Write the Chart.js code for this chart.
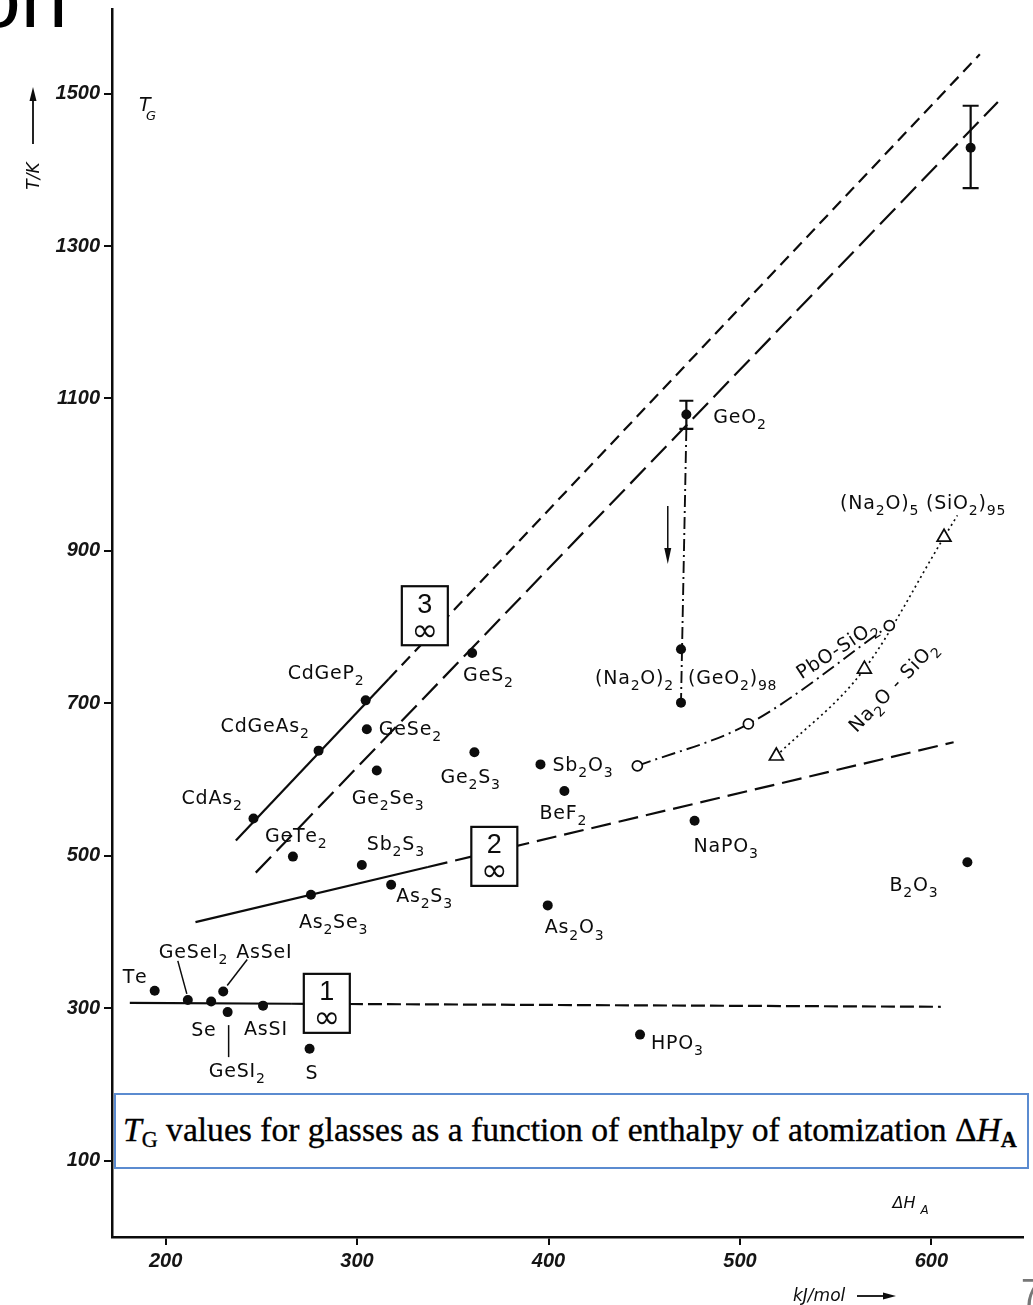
<!DOCTYPE html>
<html>
<head>
<meta charset="utf-8">
<title>T_G of glasses vs. enthalpy of atomization</title>
<script src="https://cdn.jsdelivr.net/npm/chart.js@4.4.1/dist/chart.umd.min.js"></script>
<style>
  html, body { margin: 0; padding: 0; background: #fff; overflow: hidden; width: 1033px; height: 1305px; }
  #wrap { position: relative; width: 1033px; height: 1305px; overflow: hidden; }
  #heading { position: absolute; left: -26px; top: -44px; font: 84px/84px "Liberation Sans", sans-serif; color: #000; white-space: nowrap; }
  canvas { position: absolute; left: 0; top: 0; }
  #caption { position: absolute; left: 114px; top: 1093px; width: 911px; height: 72px; border: 2px solid #5b8bd0; background: #fff; }
  #captionText { position: absolute; left: 7px; top: 50%; transform: translateY(-52%); white-space: nowrap; font-family: "Liberation Serif", "DejaVu Serif", serif; color: #000; font-size: 26px; -webkit-text-stroke: 0.35px #000; }
  #captionText sub { font-size: 0.66em; vertical-align: -0.25em; line-height: 0; }
  #pageNo { position: absolute; left: 1021px; top: 1275px; font: 36px/36px "Liberation Sans", sans-serif; color: #777; }
</style>
</head>
<body>
<div id="wrap">
  <div id="heading">on</div>
  <canvas id="chart" width="1033" height="1305"></canvas>
  <div id="caption"><span id="captionText"><i>T</i><sub>G</sub> values for glasses as a function of enthalpy of atomization Δ<i>H</i><sub><b>A</b></sub></span></div>
  <div id="pageNo">7</div>
</div>
<script>
// ---- axis ticks -------------------------------------------------------
const xTickValues = [200, 300, 400, 500, 600];                    // ΔH_A, kJ/mol
const yTickValues = [100, 300, 500, 700, 900, 1100, 1300, 1500];  // T, K

// ---- glasses: enthalpy of atomization (kJ/mol) and T_G (K) -----------
const glassNames = ['Te', 'GeSeI2', 'Se', 'AsSeI', 'GeSI2', 'AsSI', 'S',
  'As2Se3', 'As2S3', 'Sb2S3', 'GeTe2', 'CdAs2', 'CdGeAs2', 'CdGeP2', 'GeSe2',
  'Ge2Se3', 'GeS2', 'Ge2S3', 'Sb2O3', 'BeF2', 'As2O3', 'NaPO3', 'HPO3', 'B2O3'];
const glassDH = [194.3, 211.6, 223.8, 230.1, 232.4, 250.9, 275.2,
  275.9, 317.8, 302.5, 266.5, 245.9, 279.9, 304.5, 305.1,
  310.3, 360.1, 361.3, 395.8, 408.3, 399.6, 476.3, 447.8, 618.8];
const glassTG = [323, 311, 309, 322, 295, 303.5, 247,
  449, 462, 488, 499, 549, 638, 704, 666,
  612, 766, 636, 620, 585, 435, 546, 265.5, 491.5];

// ---- oxides with uncertainty bars ------------------------------------
const barNames = ['GeO2', 'SiO2'];
const barDH = [472, 620.5];
const barTG = [1079, 1429];
const barLow = [1060, 1376];
const barHigh = [1097, 1484];

// ---- (Na2O)2(GeO2)98 ---------------------------------------------------
const naGeDH = [469.2, 469.2];
const naGeTG = [771, 701];

// ---- PbO–SiO2 series (open circles) -----------------------------------
const pbDH = [446.4, 504.4, 578];
const pbTG = [618, 673, 802];

// ---- Na2O–SiO2 series (triangles) and its dotted trend ----------------
const naSiDH = [519, 565, 606.6];
const naSiTG = [631, 745, 918];
const naSiTrendDH = [519, 565, 606.6, 613.6];
const naSiTrendTG = [631, 745, 918, 946.6];

// ---- correlation lines: first segment solid, the rest dashed ----------
const line1DH = [181.3, 266, 604.9];
const line1TG = [307, 306, 302];
const line2DH = [215.6, 337, 611.6];
const line2TG = [413, 485.4, 649];
const line3aDH = [236.7, 316.5, 625.3];
const line3aTG = [520, 732, 1551.5];
const line3bDH = [247.1, 634.7];
const line3bTG = [478, 1489];

// ---- line tags ("n" over ∞) -------------------------------------------
const tagNumbers = ['1', '2', '3'];
const tagDH = [284.2, 371.7, 335.4];
const tagTG = [306.5, 499.3, 815];

// ---- cooling arrow beside the GeO2 → (Na2O)2(GeO2)98 drop ------------
const arrowDH = 462.3;
const arrowTG = [959, 883];

// ======================================================================
const INK = '#0c0c0c';
const SANS = '"DejaVu Sans", "Liberation Sans", sans-serif';
const pts = (xs, ys) => xs.map((v, i) => ({ x: v, y: ys[i] }));
const LABEL_SIZE = 19, LABEL_TRACK = 0.8;

// label placement (pixel offsets from the marker: left edge, cap middle)
const glassLabelOffset = {
  'Te': [-32, -15], 'GeSeI2': [-29, -49], 'Se': [-20, 28], 'AsSeI': [13, -41],
  'GeSI2': [-19, 58], 'AsSI': [-19, 22], 'S': [-4, 23], 'As2Se3': [-12, 26],
  'As2S3': [5, 10], 'Sb2S3': [5, -22], 'GeTe2': [-28, -22], 'CdAs2': [-72, -22],
  'CdGeAs2': [-98, -26], 'CdGeP2': [-78, -28], 'GeSe2': [12, -1], 'Ge2Se3': [-25, 26],
  'GeS2': [-9, 21], 'Ge2S3': [-34, 24], 'Sb2O3': [12, 0], 'BeF2': [-25, 21],
  'As2O3': [-3, 21], 'NaPO3': [-1, 24], 'HPO3': [11, 7], 'B2O3': [-78, 22]
};
const leaderLines = {
  'GeSeI2': [[-10, -39], [-1, -6]],
  'AsSeI': [[24, -32], [4, -6]],
  'GeSI2': [[1, 13], [1, 45]]
};

function runs(text) { return [...text].map(ch => ({ ch, sub: /[0-9]/.test(ch) })); }
function subSize(size) { return Math.round(size * 0.74); }
function formulaWidth(ctx, text, size, track) {
  let w = 0;
  for (const r of runs(text)) {
    ctx.font = `${r.sub ? subSize(size) : size}px ${SANS}`;
    w += ctx.measureText(r.ch).width + track;
  }
  return w - track;
}
// chemical formula with every digit set as a subscript
function drawFormula(ctx, text, x, y, size = LABEL_SIZE, track = LABEL_TRACK) {
  const base = y + size * 0.37;
  let cx = x;
  for (const r of runs(text)) {
    const s = r.sub ? subSize(size) : size;
    ctx.font = `${s}px ${SANS}`;
    ctx.fillText(r.ch, cx, r.sub ? base + size * 0.32 : base);
    cx += ctx.measureText(r.ch).width + track;
  }
}
function drawFormulaRotated(ctx, text, cx, cy, angleDeg, size = LABEL_SIZE, track = LABEL_TRACK) {
  const w = formulaWidth(ctx, text, size, track);
  ctx.save();
  ctx.translate(cx, cy);
  ctx.rotate(angleDeg * Math.PI / 180);
  drawFormula(ctx, text, -w / 2, 0, size, track);
  ctx.restore();
}
function arrowHead(ctx, x, y, dx, dy, len, half) {
  const n = Math.hypot(dx, dy), ux = dx / n, uy = dy / n;
  ctx.beginPath();
  ctx.moveTo(x, y);
  ctx.lineTo(x - ux * len - uy * half, y - uy * len + ux * half);
  ctx.lineTo(x - ux * len + uy * half, y - uy * len - ux * half);
  ctx.closePath();
  ctx.fill();
}

const annotations = {
  id: 'annotations',
  afterDatasetsDraw(chart) {
    const { ctx, scales: { x, y } } = chart;
    const px = v => x.getPixelForValue(v), py = v => y.getPixelForValue(v);
    ctx.save();
    ctx.strokeStyle = INK; ctx.fillStyle = INK; ctx.lineCap = 'butt';

    // uncertainty bars
    barDH.forEach((d, i) => {
      const cx = px(d), top = py(barHigh[i]), bot = py(barLow[i]);
      const cap = i === 0 ? 7 : 8;
      ctx.lineWidth = 2.2;
      ctx.beginPath();
      ctx.moveTo(cx, top); ctx.lineTo(cx, bot);
      ctx.moveTo(cx - cap, top); ctx.lineTo(cx + cap, top);
      ctx.moveTo(cx - cap, bot); ctx.lineTo(cx + cap, bot);
      ctx.stroke();
    });

    // cooling arrow
    {
      const ax = px(arrowDH), y0 = py(arrowTG[0]), y1 = py(arrowTG[1]);
      ctx.lineWidth = 1.5;
      ctx.beginPath(); ctx.moveTo(ax, y0); ctx.lineTo(ax, y1 - 12); ctx.stroke();
      arrowHead(ctx, ax, y1, 0, 1, 16, 3.5);
    }

    // boxed tags on the correlation lines
    tagNumbers.forEach((t, i) => {
      const cx = px(tagDH[i]), cy = py(tagTG[i]);
      const w = 46, h = 59;
      ctx.fillStyle = '#fff';
      ctx.fillRect(cx - w / 2, cy - h / 2, w, h);
      ctx.lineWidth = 2.2; ctx.strokeStyle = INK;
      ctx.strokeRect(cx - w / 2, cy - h / 2, w, h);
      ctx.fillStyle = INK;
      ctx.textAlign = 'center'; ctx.textBaseline = 'alphabetic';
      ctx.font = `27px "Liberation Sans", sans-serif`;
      ctx.fillText(t, cx, cy - 3);
      ctx.font = `32px "DejaVu Sans", sans-serif`;
      ctx.fillText('\u221E', cx, cy + 25);
    });

    // formula labels
    ctx.textAlign = 'left'; ctx.textBaseline = 'alphabetic'; ctx.fillStyle = INK;
    glassNames.forEach((n, i) => {
      const mx = px(glassDH[i]), my = py(glassTG[i]);
      const [dx, dy] = glassLabelOffset[n];
      drawFormula(ctx, n, mx + dx, my + dy);
      if (leaderLines[n]) {
        const [[a1, b1], [a2, b2]] = leaderLines[n];
        ctx.lineWidth = 1.5;
        ctx.beginPath(); ctx.moveTo(mx + a1, my + b1); ctx.lineTo(mx + a2, my + b2); ctx.stroke();
      }
    });
    drawFormula(ctx, 'GeO2', px(barDH[0]) + 27, py(barTG[0]) + 1);
    drawFormula(ctx, '(Na2O)2', px(naGeDH[1]) - 86, py(naGeTG[1]) - 26);
    drawFormula(ctx, '(GeO2)98', px(naGeDH[1]) + 7, py(naGeTG[1]) - 26);
    drawFormula(ctx, '(Na2O)5 (SiO2)95', px(naSiDH[2]) - 104, py(naSiTG[2]) - 35);
    drawFormulaRotated(ctx, 'PbO-SiO2', px(pbDH[2]) - 53, py(pbTG[2]) + 23, -33);
    drawFormulaRotated(ctx, 'Na2O - SiO2', px(naSiDH[1]) + 28, py(naSiTG[1]) + 17, -46);
    ctx.restore();
  },
  afterDraw(chart) {
    const { ctx, chartArea, scales: { x, y } } = chart;
    const px = v => x.getPixelForValue(v), py = v => y.getPixelForValue(v);
    ctx.save();
    ctx.fillStyle = INK; ctx.strokeStyle = INK;
    ctx.textBaseline = 'alphabetic'; ctx.textAlign = 'left';

    // T_G symbol inside the plot corner
    const tgx = chartArea.left + 27, tgy = py(1484);
    ctx.font = `italic 19px ${SANS}`;
    ctx.fillText('T', tgx, tgy + 5);
    ctx.font = `italic 13px ${SANS}`;
    ctx.fillText('G', tgx + 7, tgy + 14);

    // vertical axis title with arrow
    ctx.save();
    ctx.translate(33, 176);
    ctx.rotate(-Math.PI / 2);
    ctx.font = `italic 17px ${SANS}`;
    ctx.textAlign = 'center';
    ctx.fillText('T/K', 0, 6);
    ctx.lineWidth = 1.8;
    ctx.beginPath(); ctx.moveTo(32, 0); ctx.lineTo(78, 0); ctx.stroke();
    arrowHead(ctx, 89, 0, 1, 0, 14, 3.5);
    ctx.restore();

    // ΔH_A symbol above the horizontal axis
    const hx = px(588), hy = py(42);
    ctx.font = `italic 16px ${SANS}`;
    ctx.fillText('\u0394H', hx - 16, hy + 3);
    ctx.font = `italic 12px ${SANS}`;
    ctx.fillText('A', hx + 12, hy + 9);

    // unit with arrow below the horizontal axis
    ctx.font = `italic 17px ${SANS}`;
    ctx.fillText('kJ/mol', 793, 1301);
    ctx.lineWidth = 1.8;
    ctx.beginPath(); ctx.moveTo(857, 1296); ctx.lineTo(884, 1296); ctx.stroke();
    arrowHead(ctx, 896, 1296, 1, 0, 13, 3.5);
    ctx.restore();
  }
};

const lineBase = { showLine: true, fill: false, pointRadius: 0, pointHoverRadius: 0,
  borderColor: INK, borderWidth: 2.2, order: 2 };
const dashAfterFirst = dash => ({ borderDash: c => (c.p0DataIndex === 0 ? [] : dash) });
const tickFont = { family: '"Liberation Sans", sans-serif', size: 20, style: 'italic', weight: 'bold' };

new Chart(document.getElementById('chart'), {
  type: 'scatter',
  data: {
    datasets: [
      { ...lineBase, data: pts(line3aDH, line3aTG), segment: dashAfterFirst([12, 7]) },
      { ...lineBase, data: pts(line3bDH, line3bTG), borderDash: [22, 8] },
      { ...lineBase, data: pts(line2DH, line2TG), segment: dashAfterFirst([20, 8]) },
      { ...lineBase, data: pts(line1DH, line1TG), segment: dashAfterFirst([14, 5]) },
      { ...lineBase, data: [{ x: barDH[0], y: barLow[0] }, { x: naGeDH[1], y: naGeTG[1] }],
        borderDash: [12, 4, 2, 4], borderWidth: 1.9 },
      { ...lineBase, data: pts(pbDH, pbTG), cubicInterpolationMode: 'monotone',
        borderDash: [14, 5, 2, 5], borderWidth: 1.9 },
      { ...lineBase, data: pts(naSiTrendDH, naSiTrendTG), cubicInterpolationMode: 'monotone',
        borderDash: [2, 3.5], borderWidth: 1.7 },
      { data: pts(glassDH, glassTG), pointRadius: 5, backgroundColor: INK, borderColor: INK, borderWidth: 0, order: 1 },
      { data: pts(naGeDH, naGeTG), pointRadius: 5, backgroundColor: INK, borderColor: INK, borderWidth: 0, order: 1 },
      { data: pts(barDH, barTG), pointRadius: 5, backgroundColor: INK, borderColor: INK, borderWidth: 0, order: 1 },
      { data: pts(pbDH, pbTG), pointRadius: 5, backgroundColor: '#fff', borderColor: INK, borderWidth: 1.7, order: 1 },
      { data: pts(naSiDH, naSiTG), pointStyle: 'triangle', pointRadius: 8, backgroundColor: '#fff',
        borderColor: INK, borderWidth: 1.7, order: 1 }
    ]
  },
  options: {
    responsive: false,
    animation: false,
    events: [],
    layout: { padding: { top: 8, right: 5, left: 0, bottom: 0 } },
    plugins: { legend: { display: false }, tooltip: { enabled: false } },
    scales: {
      x: {
        type: 'linear', min: 172, max: 648,
        afterBuildTicks: s => { s.ticks = xTickValues.map(v => ({ value: v })); },
        afterFit: s => { s.height = 68; s.paddingLeft = 0; s.paddingRight = 0; },
        grid: { drawOnChartArea: false, drawTicks: true, tickLength: 8, color: INK, lineWidth: 2 },
        border: { display: true, color: INK, width: 2.5 },
        ticks: { color: '#151515', padding: 4, maxRotation: 0, autoSkip: false,
          font: tickFont, callback: v => String(v) }
      },
      y: {
        type: 'linear', min: 0, max: 1610,
        afterBuildTicks: s => { s.ticks = yTickValues.map(v => ({ value: v })); },
        afterFit: s => { s.width = 112; s.paddingTop = 0; s.paddingBottom = 0; },
        grid: { drawOnChartArea: false, drawTicks: true, tickLength: 8, color: INK, lineWidth: 2 },
        border: { display: true, color: INK, width: 2.5 },
        ticks: { color: '#151515', padding: 4, autoSkip: false,
          font: tickFont, callback: v => String(v) }
      }
    }
  },
  plugins: [annotations]
});

// fit the caption line to its frame
(function fitCaption() {
  const el = document.getElementById('captionText');
  const target = 894;
  const w = el.getBoundingClientRect().width;
  if (w > 0) el.style.fontSize = (26 * target / w).toFixed(2) + 'px';
})();
</script>
</body>
</html>
